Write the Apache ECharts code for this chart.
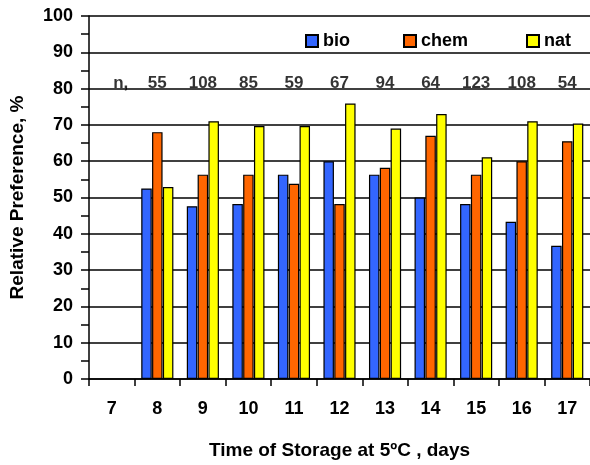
<!DOCTYPE html>
<html>
<head>
<meta charset="utf-8">
<script src="https://cdn.jsdelivr.net/npm/echarts@6/dist/echarts.min.js"></script>
<style>
html,body{margin:0;padding:0;background:#fff;}
#chart{width:590px;height:465px;}
</style>
</head>
<body>
<div id="chart"></div>
<script>
const categories = ['7','8','9','10','11','12','13','14','15','16','17'];
const bio  = [null, 52.5, 47.6, 48.2, 56.3, 60.0, 56.3, 50.0, 48.2, 43.3, 36.7];
const chem = [null, 68.0, 56.3, 56.3, 53.8, 48.2, 58.2, 67.0, 56.3, 60.0, 65.5];
const nat  = [null, 52.9, 71.0, 69.7, 69.7, 75.9, 69.0, 73.0, 61.1, 71.0, 70.4];
const nCounts = ['n,', 55, 108, 85, 59, 67, 94, 64, 123, 108, 54];
const yTicks = [0,10,20,30,40,50,60,70,80,90,100];

const FONT = '"Liberation Sans", Arial, sans-serif';
const chart = echarts.init(document.getElementById('chart'));

const barBase = {
  type: 'bar',
  barWidth: 10.5,
  barGap: '3%'
};

const legendBase = {
  orient: 'horizontal',
  icon: 'rect',
  itemWidth: 12,
  itemHeight: 12,
  itemGap: 5,
  top: 27,
  textStyle: { fontFamily: FONT, fontWeight: 'bold', fontSize: 18, color: '#000' }
};

chart.setOption({
  animation: false,
  backgroundColor: '#fff',
  grid: { left: 87, top: 16, width: 509, height: 366, containLabel: false },
  legend: [
    Object.assign({}, legendBase, { left: 300, data: ['bio'] }),
    Object.assign({}, legendBase, { left: 398, data: ['chem'] }),
    Object.assign({}, legendBase, { left: 521, data: ['nat'] })
  ],
  xAxis: {
    type: 'category',
    data: categories,
    boundaryGap: true,
    name: 'Time of Storage at 5ºC , days',
    nameLocation: 'middle',
    nameGap: 62,
    nameTextStyle: { fontFamily: FONT, fontWeight: 'bold', fontSize: 19, color: '#000' },
    axisLine: { lineStyle: { color: '#000', width: 1.5 } },
    axisTick: { show: true, length: 7, inside: false, lineStyle: { color: '#000', width: 1.5 } },
    axisLabel: { fontFamily: FONT, fontWeight: 'bold', fontSize: 18, color: '#000', margin: 21 },
    splitLine: { show: false }
  },
  yAxis: {
    type: 'value',
    min: 0, max: 100, interval: 10,
    name: 'Relative Preference, %',
    nameLocation: 'middle',
    nameGap: 62,
    nameTextStyle: { fontFamily: FONT, fontWeight: 'bold', fontSize: 19, color: '#000' },
    axisLine: { show: true, lineStyle: { color: '#000', width: 1.5 } },
    axisTick: { show: true, length: 8, inside: false, lineStyle: { color: '#000', width: 1.5 } },
    minorTick: { show: true, splitNumber: 2, length: 8, lineStyle: { color: '#000', width: 1.5 } },
    axisLabel: {
      fontFamily: FONT, fontWeight: 'bold', fontSize: 18, color: '#000', margin: 16,
      formatter: v => (yTicks.indexOf(v) >= 0 ? String(v) : '')
    },
    splitLine: { show: true, lineStyle: { color: '#000', width: 1.5 } }
  },
  series: [
    Object.assign({}, barBase, { name: 'bio',  data: bio,  itemStyle: { color: '#3366FF', borderColor: '#000', borderWidth: 1.2 } }),
    Object.assign({}, barBase, { name: 'chem', data: chem, itemStyle: { color: '#FF6600', borderColor: '#000', borderWidth: 1.2 } }),
    Object.assign({}, barBase, { name: 'nat',  data: nat,  itemStyle: { color: '#FFFF00', borderColor: '#000', borderWidth: 1.2 } }),
    {
      type: 'scatter',
      name: 'n',
      symbolSize: 0,
      silent: true,
      data: nCounts.map((t, i) => ({
        value: [categories[i], 81.5],
        label: { formatter: String(t), offset: i === 0 ? [9, 0] : [0, 0] }
      })),
      label: {
        show: true,
        position: 'inside',
        fontFamily: FONT, fontWeight: 'bold', fontSize: 17, color: '#000'
      }
    }
  ]
});
</script>
</body>
</html>
